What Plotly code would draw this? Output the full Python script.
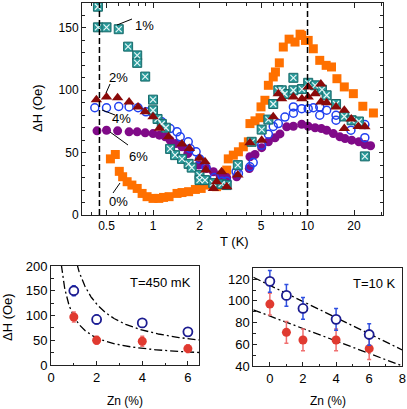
import numpy as np
import plotly.graph_objects as go

W, H = 407, 409
FONT = "Liberation Sans, Arial, sans-serif"

# ---------------- main panel data (T in K, dH in Oe) ----------------
T0 = [0.53, 0.57, 0.605, 0.636, 0.68, 0.73, 0.79, 0.85, 0.915, 1.0, 1.09, 1.17, 1.27, 1.43, 1.54,
      1.70, 1.88, 2.05, 2.22, 2.46, 2.58, 2.8, 3.0, 3.07, 3.31, 3.57, 3.84, 4.14, 4.24, 4.57, 4.93,
      5.0, 5.3, 5.58, 6.0, 6.2, 6.57, 6.97, 7.6, 8.3, 8.95, 9.17, 9.7, 10.1, 10.9, 12.0, 13.2, 14.3,
      15.5, 17.3, 19.8, 22.8, 26.7]
H0 = [45, 48.5, 35, 30.7, 26.7, 24, 21.3, 17.3, 14.7, 13.3, 13.3, 14.1, 14.7, 17.3, 18,
      18.7, 20.5, 21.3, 24, 24.8, 22.7, 24, 36, 45, 48, 50.7, 54.7, 58.7, 73.3, 75.5, 78,
      86.7, 92, 104, 110.7, 114.7, 122, 134.7, 141, 138.7, 145, 144, 140, 140, 133.3, 124, 120, 118.7,
      109.3, 102.7, 97.3, 87.2, 81.8]

T1 = [0.44, 0.44, 0.50, 0.60, 0.69, 0.79, 0.79, 0.89, 1.0, 1.0, 1.07, 1.14, 1.21, 1.29, 1.39, 1.54,
      1.70, 1.78, 2.0, 2.0, 2.17, 2.45, 2.78, 3.0, 3.54, 4.35, 5.05, 5.58, 6.0, 6.47, 6.81, 7.1, 8.1,
      8.1, 9.2, 10.1, 11.2, 12.4, 13.3, 15.3, 17.3, 19.3, 21.5, 23.5]
H1 = [167, 150.5, 150.5, 149, 135, 128, 122, 111, 92.5, 84, 77, 73, 70, 53, 48, 45,
      41, 38, 32, 28, 28, 25.6, 24.8, 24, 40, 58.7, 68.5, 76.5, 89, 100, 100, 97, 110,
      100, 101, 106, 104, 100.5, 96, 89, 79, 76, 75, 47]

T2 = [0.43, 0.50, 0.59, 0.70, 0.80, 0.89, 1.0, 1.1, 1.26, 1.54, 1.72, 2.0, 2.17, 2.2, 2.46, 2.58,
      2.78, 3.0, 3.54, 4.24, 5.05, 6.0, 6.47, 6.8, 8.1, 9.2, 10.1, 10.1, 11.2, 12.2, 12.2, 13.3,
      15.3, 17.3, 17.3, 19.2, 21.3, 23.5]
H2 = [92.5, 94.7, 94, 90.7, 86.7, 82.7, 78.7, 69.6, 62.7, 57, 53.4, 45.5, 42.7, 36, 21.3, 26.7,
      34.7, 22.7, 32, 58, 60, 78.7, 97.3, 93.3, 94.7, 93.3, 102.7, 94.7, 97.3, 105, 90.7, 90,
      86.7, 84, 69.3, 77, 71, 70.7]

T4 = [0.42, 0.50, 0.60, 0.70, 0.80, 0.90, 1.0, 1.14, 1.29, 1.43, 1.5, 1.69, 1.74, 1.9, 2.0, 2.2,
      2.5, 2.8, 3.0, 3.45, 3.57, 4.24, 4.45, 5.05, 5.58, 6.0, 6.47, 7.14, 8.1, 8.1, 9.17, 10.1,
      10.9, 12.0, 12.0, 13.3, 15.3, 15.3, 19.1, 23.5, 23.5]
H4 = [86, 86, 87, 86.7, 86, 82.7, 81.3, 74.7, 69.3, 66.7, 62.7, 58.7, 53.3, 50.7, 45, 38,
      30, 27, 27, 34.7, 33.3, 38.7, 42, 56, 64.8, 71, 73.3, 78.5, 86.7, 81.6, 85.3, 85.3,
      86, 86.7, 80, 84, 80, 76, 68, 72.5, 62]

T6 = [0.434, 0.50, 0.59, 0.70, 0.79, 0.89, 1.0, 1.1, 1.2, 1.29, 1.41, 1.54, 1.68, 1.98, 2.22, 2.46,
      2.71, 3.0, 3.48, 4.2, 4.24, 4.57, 5.05, 5.58, 6.16, 6.63, 7.33, 8.1, 9.17, 10.1, 11.2, 12.3,
      13.3, 14.7, 16.2, 17.5, 19.3, 21.5, 23.5, 25.6]
H6 = [67.5, 68, 67.5, 66.7, 66.7, 65.9, 65.3, 64, 62.7, 60, 57.3, 54.7, 49.3, 40, 37.3, 34.7,
      32, 30, 30.7, 37.3, 46.7, 48.5, 54, 58.7, 61.9, 65, 70.7, 71.2, 72.8, 71.2, 70, 69.3,
      68, 65.3, 62.7, 61.3, 60, 58.7, 56.5, 55.5]

x_tickvals = [0.5, 1, 2, 5, 10, 20]
x_ticktext = ["0.5", "1", "2", "5", "10", "20"]
x_minor = [0.4, 0.6, 0.7, 0.8, 0.9, 3, 4, 6, 7, 8, 9, 30]
T_marks = [0.45, 10]

# ---------------- bottom-left (T = 450 mK) ----------------
zn_a = [1, 2, 4, 6]
open_a = [150, 92, 85, 67]
open_a_err = [10, 9, 8, 8]
fill_a = [97, 50, 48, 33]
fill_a_err = [10, 8, 10, 8]
fitA_upper = (18, 210)   # a + b/x
fitA_lower = (12, 86)

# ---------------- bottom-right (T = 10 K) ----------------
zn_b = [0, 1, 2, 4, 6]
open_b = [118, 105, 93, 83, 69]
open_b_err = [10, 10, 10, 10, 10]
fill_b = [97, 71, 64, 64, 56]
fill_b_err = [10, 10, 10, 10, 10]
fitB_upper = (114.3, -7.44)  # a + b*x
fitB_lower = (86.0, -5.74)


def px(x):
    return x / W


def py(y):
    return 1 - y / H


fig = go.Figure()

# main panel traces (drawing order: 0%, 6%, 4%, 1%, 2%)
fig.add_trace(go.Scatter(x=T0, y=H0, mode="markers", xaxis="x", yaxis="y",
                         marker=dict(symbol="square", size=9, color="#ff7000", line=dict(width=0))))
fig.add_trace(go.Scatter(x=T6, y=H6, mode="markers", xaxis="x", yaxis="y",
                         marker=dict(symbol="circle", size=9, color="#800a88", line=dict(width=0))))
fig.add_trace(go.Scatter(x=T4, y=H4, mode="markers", xaxis="x", yaxis="y",
                         marker=dict(symbol="circle-open", size=8, color="#2040f0", line=dict(width=1.5))))
fig.add_trace(go.Scatter(x=T1, y=H1, mode="markers", xaxis="x", yaxis="y",
                         marker=dict(symbol="square", size=9, color="#2a9a9a",
                                     line=dict(width=1, color="#1a6a6a"))))
fig.add_trace(go.Scatter(x=T1, y=H1, mode="markers", xaxis="x", yaxis="y",
                         marker=dict(symbol="x-thin", size=6, color="#e6f6f6",
                                     line=dict(width=1.2, color="#e6f6f6"))))
fig.add_trace(go.Scatter(x=T2, y=H2, mode="markers", xaxis="x", yaxis="y",
                         marker=dict(symbol="triangle-up", size=10, color="#8a0a0a", line=dict(width=0))))

# bottom-left
zA = np.linspace(0.3, 6.6, 300)
for a, b in (fitA_upper, fitA_lower):
    fig.add_trace(go.Scatter(x=zA, y=a + b / zA, mode="lines", xaxis="x2", yaxis="y2",
                             line=dict(color="black", width=1.3, dash="8px,3px,2px,3px")))
fig.add_trace(go.Scatter(x=zn_a, y=fill_a, mode="markers", xaxis="x2", yaxis="y2",
                         error_y=dict(type="data", array=fill_a_err, color="#f07070", thickness=1.5, width=2),
                         marker=dict(symbol="circle", size=9, color="#e03a30")))
fig.add_trace(go.Scatter(x=zn_a, y=open_a, mode="markers", xaxis="x2", yaxis="y2",
                         error_y=dict(type="data", array=open_a_err, color="#3050e0", thickness=1.5, width=2),
                         marker=dict(symbol="circle", size=9, color="white",
                                     line=dict(width=1.8, color="#1c1c90"))))

# bottom-right
zB = np.array([-1.0, 8.0])
for a, b in (fitB_upper, fitB_lower):
    fig.add_trace(go.Scatter(x=zB, y=a + b * zB, mode="lines", xaxis="x3", yaxis="y3",
                             line=dict(color="black", width=1.3, dash="8px,3px,2px,3px")))
fig.add_trace(go.Scatter(x=zn_b, y=fill_b, mode="markers", xaxis="x3", yaxis="y3",
                         error_y=dict(type="data", array=fill_b_err, color="#f07070", thickness=1.5, width=2),
                         marker=dict(symbol="circle", size=9, color="#e03a30")))
fig.add_trace(go.Scatter(x=zn_b, y=open_b, mode="markers", xaxis="x3", yaxis="y3",
                         error_y=dict(type="data", array=open_b_err, color="#3050e0", thickness=1.5, width=2),
                         marker=dict(symbol="circle", size=9, color="white",
                                     line=dict(width=1.8, color="#1c1c90"))))

axis_common = dict(showline=True, linecolor="#222", linewidth=1, ticks="inside", tickcolor="#222",
                   showgrid=False, zeroline=False, automargin=False,
                   tickfont=dict(family=FONT, size=12, color="black"))

shapes = []
for t in T_marks:
    shapes.append(dict(type="line", xref="x", yref="y domain", x0=t, x1=t, y0=0, y1=1,
                       line=dict(color="black", width=1.5, dash="6px,3px")))

# leader lines for labels (pixel positions)
leaders = [((117, 25), (132, 19)), ((106, 93), (110, 84)), ((102, 110), (115, 115)),
           ((110, 132), (128, 145)), ((113, 193), (120, 183))]
for (x0, y0), (x1, y1) in leaders:
    shapes.append(dict(type="line", xref="paper", yref="paper", x0=px(x0), y0=py(y0),
                       x1=px(x1), y1=py(y1), line=dict(color="black", width=1)))

labels = [("1%", 144, 25, 13), ("2%", 119, 77, 13), ("4%", 121, 118, 13), ("6%", 138, 156, 13),
          ("0%", 118, 202, 13), ("T=450 mK", 160, 282, 13), ("T=10 K", 374, 283, 13),
          ("T (K)", 235, 241, 13), ("Zn (%)", 125, 401, 12), ("Zn (%)", 328, 401, 12)]
annotations = []
for txt, x, y, fs in labels:
    annotations.append(dict(text=txt, x=px(x), y=py(y), xref="paper", yref="paper", showarrow=False,
                            xanchor="center", yanchor="middle",
                            font=dict(family=FONT, size=fs, color="black")))
for x, y in ((37, 108), (7, 317)):
    annotations.append(dict(text="ΔH (Oe)", x=px(x), y=py(y), xref="paper", yref="paper", showarrow=False,
                            textangle=-90, xanchor="center", yanchor="middle",
                            font=dict(family=FONT, size=13, color="black")))

fig.update_layout(
    width=W, height=H, margin=dict(l=0, r=0, t=0, b=0, autoexpand=False),
    paper_bgcolor="white", plot_bgcolor="white", showlegend=False,
    font=dict(family=FONT, size=12, color="black"),
    xaxis=dict(axis_common, type="log", range=[np.log10(0.347), np.log10(30.8)],
               domain=[px(82), px(383)], anchor="y", mirror="allticks",
               tickmode="array", tickvals=x_tickvals, ticktext=x_ticktext, ticklen=5,
               minor=dict(tickvals=x_minor, ticks="inside", ticklen=3, tickcolor="#222")),
    yaxis=dict(axis_common, range=[0, 170], domain=[py(215), py(3)], anchor="x", mirror="allticks",
               dtick=50, ticklen=4,
               minor=dict(dtick=10, ticks="inside", ticklen=3, tickcolor="#222")),
    xaxis2=dict(axis_common, range=[0, 6.5], domain=[px(51), px(199.3)], anchor="y2", mirror=True,
                dtick=2, ticklen=4, tickfont=dict(family=FONT, size=13, color="black"),
                minor=dict(dtick=1, ticks="inside", ticklen=2.5, tickcolor="#222")),
    yaxis2=dict(axis_common, range=[0, 200], domain=[py(365), py(266)], anchor="x2", mirror=True,
                dtick=50, ticklen=4, tickfont=dict(family=FONT, size=13, color="black"),
                minor=dict(dtick=25, ticks="inside", ticklen=2.5, tickcolor="#222")),
    xaxis3=dict(axis_common, range=[-1, 8], domain=[px(253.3), px(402.3)], anchor="y3", mirror=True,
                tickvals=[0, 2, 4, 6, 8], ticklen=4, tickfont=dict(family=FONT, size=13, color="black"),
                minor=dict(tickvals=[1, 3, 5, 7], ticks="inside", ticklen=2.5, tickcolor="#222")),
    yaxis3=dict(axis_common, range=[40, 130], domain=[py(366), py(268.3)], anchor="x3", mirror=True,
                tickvals=[40, 60, 80, 100, 120], ticklen=4, tickfont=dict(family=FONT, size=13, color="black"),
                minor=dict(tickvals=[50, 70, 90, 110, 130], ticks="inside", ticklen=2.5, tickcolor="#222")),
    shapes=shapes, annotations=annotations,
)

fig.write_html("out.html", config={"displayModeBar": False},
               post_script="document.body.style.margin='0';document.body.style.overflow='hidden';")
